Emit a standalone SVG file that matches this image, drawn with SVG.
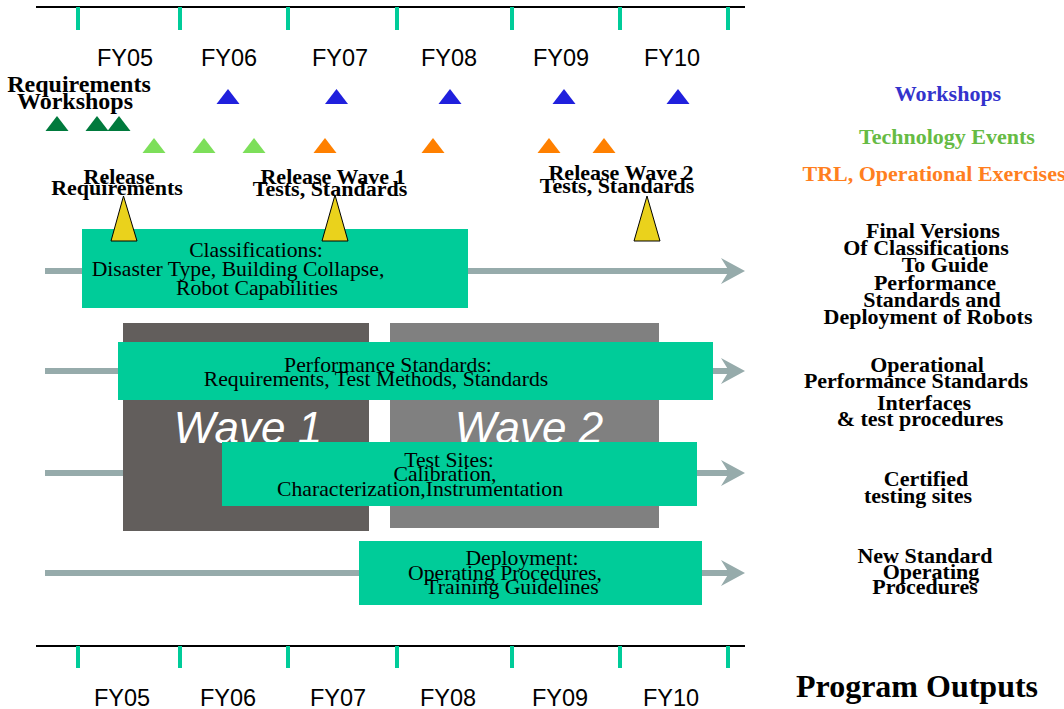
<svg xmlns="http://www.w3.org/2000/svg" xmlns:xlink="http://www.w3.org/1999/xlink" width="1064" height="709" viewBox="0 0 1064 709">
<style>
.axis{stroke:#000;stroke-width:2}
.tick{stroke:#00cc99;stroke-width:4}
.fy{font-family:"Liberation Sans",Arial,sans-serif;font-size:23.5px;fill:#000;text-anchor:middle}
.lbl{font-family:"Liberation Serif","Times New Roman",serif;font-weight:bold;font-size:22px;fill:#000;text-anchor:middle}
.big{font-size:24px}
.box{fill:#00cc99}
.btxt{font-family:"Liberation Serif","Times New Roman",serif;font-size:21.7px;fill:#000;text-anchor:middle}
.flow{stroke:#96abab;stroke-width:6;fill:none}
.head{fill:#96abab}
.wave{font-family:"Liberation Sans",Arial,sans-serif;font-style:italic;font-size:44px;fill:#fff;text-anchor:middle}
.blue{fill:#2020dd}
.dgreen{fill:#007a3d}
.lgreen{fill:#7ddf5a}
.orange{fill:#ff8000}
.yel{fill:#ead21c;stroke:#000;stroke-width:1}
</style>
<defs>
<polygon id="tri" points="-11.5,0 11.5,0 0,-15"/>
<path id="ah" d="M0,0 L-24,-13 L-16,0 L-24,13 Z"/>
</defs>
<rect width="1064" height="709" fill="#fff"/>

<g id="top-axis">
<line class="axis" x1="36" y1="7" x2="745" y2="7"/>
<line class="tick" x1="78" y1="7" x2="78" y2="30"/>
<line class="tick" x1="180" y1="7" x2="180" y2="30"/>
<line class="tick" x1="288" y1="7" x2="288" y2="30"/>
<line class="tick" x1="397" y1="7" x2="397" y2="30"/>
<line class="tick" x1="512" y1="7" x2="512" y2="30"/>
<line class="tick" x1="620" y1="7" x2="620" y2="30"/>
<line class="tick" x1="728" y1="7" x2="728" y2="30"/>
<text class="fy" x="125" y="66">FY05</text>
<text class="fy" x="229" y="66">FY06</text>
<text class="fy" x="340" y="66">FY07</text>
<text class="fy" x="449" y="66">FY08</text>
<text class="fy" x="561" y="66">FY09</text>
<text class="fy" x="672" y="66">FY10</text>
</g>

<g id="events">
<use xlink:href="#tri" class="blue" x="228" y="104"/>
<use xlink:href="#tri" class="blue" x="336.5" y="104"/>
<use xlink:href="#tri" class="blue" x="450" y="104"/>
<use xlink:href="#tri" class="blue" x="564" y="104"/>
<use xlink:href="#tri" class="blue" x="678" y="104"/>
<use xlink:href="#tri" class="dgreen" x="57" y="131"/>
<use xlink:href="#tri" class="dgreen" x="97" y="131"/>
<use xlink:href="#tri" class="dgreen" x="119" y="131"/>
<use xlink:href="#tri" class="lgreen" x="154" y="153"/>
<use xlink:href="#tri" class="lgreen" x="204" y="153"/>
<use xlink:href="#tri" class="lgreen" x="254" y="153"/>
<use xlink:href="#tri" class="orange" x="325" y="153"/>
<use xlink:href="#tri" class="orange" x="433" y="153"/>
<use xlink:href="#tri" class="orange" x="549" y="153"/>
<use xlink:href="#tri" class="orange" x="604" y="153"/>
<text class="lbl big" x="79" y="92">Requirements</text>
<text class="lbl big" x="75" y="109">Workshops</text>
</g>

<g id="connectors">
<line class="flow" x1="45" y1="271" x2="730" y2="271"/>
<use xlink:href="#ah" class="head" x="745" y="271"/>
<line class="flow" x1="45" y1="371" x2="730" y2="371"/>
<use xlink:href="#ah" class="head" x="745" y="371"/>
<line class="flow" x1="45" y1="473" x2="730" y2="473"/>
<use xlink:href="#ah" class="head" x="745" y="473"/>
<line class="flow" x1="45" y1="573" x2="730" y2="573"/>
<use xlink:href="#ah" class="head" x="745" y="573"/>
</g>

<g id="wave1">
<rect x="123" y="323" width="246" height="208" fill="#625e5c"/>
<text class="wave" x="248" y="443">Wave 1</text>
</g>
<g id="wave2">
<rect x="390" y="323" width="269" height="205" fill="#808080"/>
<text class="wave" x="529" y="443">Wave 2</text>
</g>

<g id="classifications">
<rect class="box" x="82" y="229" width="386" height="79"/>
<text class="btxt" x="256" y="257">Classifications:</text>
<text class="btxt" x="238" y="276">Disaster Type, Building Collapse,</text>
<text class="btxt" x="257" y="295">Robot Capabilities</text>
</g>

<g id="performance-standards">
<rect class="box" x="118" y="342" width="595" height="58"/>
<text class="btxt" x="388" y="372">Performance Standards:</text>
<text class="btxt" x="376" y="386">Requirements, Test Methods, Standards</text>
</g>

<g id="test-sites">
<rect class="box" x="222" y="442" width="475" height="64"/>
<text class="btxt" x="449" y="467">Test Sites:</text>
<text class="btxt" x="445" y="481">Calibration,</text>
<text class="btxt" x="420" y="496">Characterization,Instrumentation</text>
</g>

<g id="deployment">
<rect class="box" x="359" y="541" width="343" height="64"/>
<text class="btxt" x="522" y="565">Deployment:</text>
<text class="btxt" x="505" y="580">Operating Procedures,</text>
<text class="btxt" x="512" y="594">Training Guidelines</text>
</g>

<g id="release-requirements">
<polygon class="yel" points="123.5,196 111,241 137,241"/>
<text class="lbl" x="119" y="184">Release</text>
<text class="lbl" x="117" y="195">Requirements</text>
</g>
<g id="release-wave1">
<polygon class="yel" points="335,195 322,241 348,241"/>
<text class="lbl" x="333" y="184">Release Wave 1</text>
<text class="lbl" x="330" y="196">Tests, Standards</text>
</g>
<g id="release-wave2">
<polygon class="yel" points="647,196 634,241 660,241"/>
<text class="lbl" x="621" y="180">Release Wave 2</text>
<text class="lbl" x="617" y="193">Tests, Standards</text>
</g>

<g id="legend">
<text class="lbl" x="948" y="101" style="fill:#3333cc">Workshops</text>
<text class="lbl" x="947" y="144" style="fill:#66bb44">Technology Events</text>
<text class="lbl" x="934" y="181" style="fill:#ff7f1f">TRL, Operational Exercises</text>
</g>

<g id="output-classifications">
<text class="lbl" x="933" y="238">Final Versions</text>
<text class="lbl" x="926" y="255">Of Classifications</text>
<text class="lbl" x="945" y="272">To Guide</text>
<text class="lbl" x="935" y="290">Performance</text>
<text class="lbl" x="932" y="307">Standards and</text>
<text class="lbl" x="928" y="324">Deployment of Robots</text>
</g>
<g id="output-performance">
<text class="lbl" x="927" y="372">Operational</text>
<text class="lbl" x="916" y="388">Performance Standards</text>
<text class="lbl" x="924" y="410">Interfaces</text>
<text class="lbl" x="920" y="426">&amp; test procedures</text>
</g>
<g id="output-testsites">
<text class="lbl" x="926" y="486">Certified</text>
<text class="lbl" x="918" y="503">testing sites</text>
</g>
<g id="output-deployment">
<text class="lbl" x="925" y="563">New Standard</text>
<text class="lbl" x="931" y="579">Operating</text>
<text class="lbl" x="925" y="594">Procedures</text>
</g>

<g id="bottom-axis">
<line class="axis" x1="36" y1="646" x2="745" y2="646"/>
<line class="tick" x1="78" y1="646" x2="78" y2="668"/>
<line class="tick" x1="180" y1="646" x2="180" y2="668"/>
<line class="tick" x1="288" y1="646" x2="288" y2="668"/>
<line class="tick" x1="397" y1="646" x2="397" y2="668"/>
<line class="tick" x1="512" y1="646" x2="512" y2="668"/>
<line class="tick" x1="620" y1="646" x2="620" y2="668"/>
<line class="tick" x1="728" y1="646" x2="728" y2="668"/>
<text class="fy" x="122" y="706">FY05</text>
<text class="fy" x="228" y="706">FY06</text>
<text class="fy" x="338" y="706">FY07</text>
<text class="fy" x="448" y="706">FY08</text>
<text class="fy" x="560" y="706">FY09</text>
<text class="fy" x="671" y="706">FY10</text>
</g>

<g id="program-outputs">
<text class="lbl" x="917" y="697" style="font-size:32px">Program Outputs</text>
</g>
</svg>
